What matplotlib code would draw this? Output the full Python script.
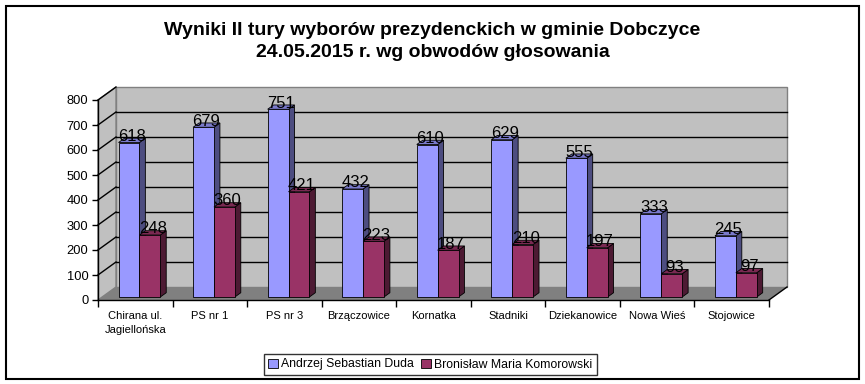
import numpy as np
import matplotlib
matplotlib.use("Agg")
import matplotlib.pyplot as plt
import matplotlib.transforms as mtransforms
from matplotlib.patches import Polygon, Rectangle, Patch

plt.rcParams['font.family'] = ['Liberation Sans', 'DejaVu Sans']

# data
categories = ['Chirana ul.\nJagiellońska', 'PS nr 1', 'PS nr 3', 'Brzączowice', 'Kornatka',
              'Stadniki', 'Dziekanowice', 'Nowa Wieś', 'Stojowice']
duda = [618, 679, 751, 432, 610, 629, 555, 333, 245]
komorowski = [248, 360, 421, 223, 187, 210, 197, 93, 97]
series_names = ['Andrzej Sebastian Duda', 'Bronisław Maria Komorowski']
yticks = list(range(0, 801, 100))

title = 'Wyniki II tury wyborów prezydenckich w gminie Dobczyce\n24.05.2015 r. wg obwodów głosowania'

# colours (front, side, top)
blue = ('#9999FF', '#4D4D80', '#7A7ACC')
red = ('#993366', '#4D1A33', '#7A2952')

W, H = 865, 384
fig = plt.figure(figsize=(W / 100, H / 100), dpi=100)
fig.patch.set_facecolor('white')

# front plane of the 3d box (pixels from top-left)
left, right, y0, y800 = 98, 769, 300, 100
ax = fig.add_axes([left / W, (H - y0) / H, (right - left) / W, (y0 - y800) / H])
ax.set_xlim(0, len(categories))
ax.set_ylim(0, 800)
ax.patch.set_visible(False)
for s in ['top', 'right']:
    ax.spines[s].set_visible(False)
for s in ['left', 'bottom']:
    ax.spines[s].set_color('black')
    ax.spines[s].set_linewidth(1)
ax.set_yticks(yticks)
ax.tick_params(axis='y', length=4, width=1, labelsize=9.3, pad=3)
ax.set_xticks(np.arange(len(categories) + 1))
ax.set_xticklabels([])
ax.tick_params(axis='x', which='major', length=5, width=1)
ax.set_xticks(np.arange(len(categories)) + 0.5, minor=True)
ax.set_xticklabels(categories, minor=True, fontsize=8, linespacing=1.5)
ax.tick_params(axis='x', which='minor', length=0, pad=8)

DEPTH = np.array([18.0, 13.0])  # depth offset in pixels (display: right, up)
ident = mtransforms.IdentityTransform()


def proj(x, y, d):
    p = ax.transData.transform((x, y))
    return p + d * DEPTH


def poly(pts, fc, ec='none', lw=0.8, z=1):
    ax.add_patch(Polygon(np.array(pts), closed=True, facecolor=fc, edgecolor=ec,
                         linewidth=lw, transform=ident, clip_on=False, zorder=z))


n = len(categories)
# back wall, left wall, floor
poly([proj(0, 0, 1), proj(n, 0, 1), proj(n, 800, 1), proj(0, 800, 1)], '#C0C0C0', '#808080', 1, 0.5)
poly([proj(0, 0, 0), proj(0, 0, 1), proj(0, 800, 1), proj(0, 800, 0)], '#C0C0C0', '#808080', 1, 0.5)
poly([proj(0, 0, 0), proj(n, 0, 0), proj(n, 0, 1), proj(0, 0, 1)], '#808080', 'none', 1, 0.6)

# gridlines
for v in yticks[1:]:
    a, b, c = proj(0, v, 0), proj(0, v, 1), proj(n, v, 1)
    ax.add_line(plt.Line2D([a[0], b[0]], [a[1], b[1]], color='black', lw=1,
                           transform=ident, clip_on=False, zorder=0.7))
    if v < 800:
        ax.add_line(plt.Line2D([b[0], c[0]], [b[1], c[1]], color='black', lw=1,
                               transform=ident, clip_on=False, zorder=0.7))
a, b = proj(n, 0, 0), proj(n, 0, 1)
ax.add_line(plt.Line2D([a[0], b[0]], [a[1], b[1]], color='black', lw=1,
                       transform=ident, clip_on=False, zorder=0.8))

# bars
bw = 0.28
d0, d1 = 0.23, 0.56
for i in range(n):
    for k, (vals, col) in enumerate([(duda, blue), (komorowski, red)]):
        v = vals[i]
        x1 = i + 0.22 + k * bw
        x2 = x1 + bw
        z = 2 + i * 0.1 + k * 0.01
        poly([proj(x2, 0, d0), proj(x2, 0, d1), proj(x2, v, d1), proj(x2, v, d0)], col[1], 'black', 0.6, z)
        poly([proj(x1, v, d0), proj(x2, v, d0), proj(x2, v, d1), proj(x1, v, d1)], col[2], 'black', 0.6, z)
        poly([proj(x1, 0, d0), proj(x2, 0, d0), proj(x2, v, d0), proj(x1, v, d0)], col[0], 'black', 0.6, z)
        c = proj((x1 + x2) / 2, v, (d0 + d1) / 2)
        ax.text(c[0], c[1] + 4, str(v), transform=ident, ha='center', va='center',
                fontsize=12, color='black', zorder=5)

# title
fig.text(0.5, 1 - 41.5 / H, title, ha='center', va='center', fontsize=14,
         fontweight='bold', linespacing=1.42)

# legend
handles = [Patch(facecolor=blue[0], edgecolor='black', linewidth=0.6, label=series_names[0]),
           Patch(facecolor=red[0], edgecolor='black', linewidth=0.6, label=series_names[1])]
leg = fig.legend(handles=handles, loc='center', bbox_to_anchor=(430.5 / W, 1 - 364.5 / H),
                 ncol=2, fontsize=8.8, frameon=True, fancybox=False, shadow=False,
                 handlelength=0.75, handleheight=0.75, handletextpad=0.3, columnspacing=0.6,
                 borderpad=0.35, borderaxespad=0)
leg.get_frame().set_edgecolor('black')
leg.get_frame().set_linewidth(1)

# outer chart frame
fig.patches.append(Rectangle((5.5 / W, 1 - 378.5 / H), 853.5 / W, 373 / H, transform=fig.transFigure,
                             fill=False, edgecolor='black', linewidth=1.5))

fig.savefig('out.png', dpi=100)
